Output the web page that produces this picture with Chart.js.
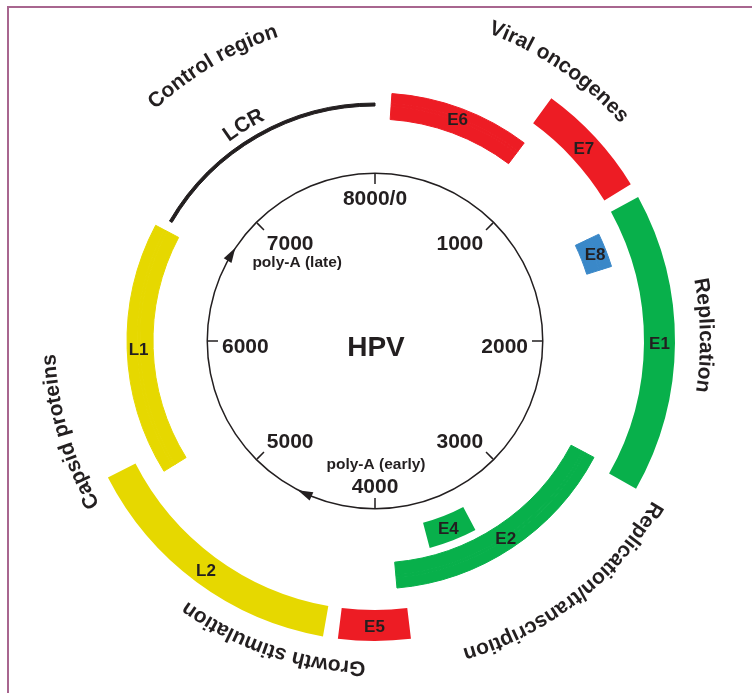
<!DOCTYPE html>
<html>
<head>
<meta charset="utf-8">
<script src="https://cdn.jsdelivr.net/npm/chart.js@4.4.0/dist/chart.umd.min.js"></script>
<style>
html, body { margin: 0; padding: 0; background: #fff; overflow: hidden; }
#frame { position: absolute; left: 7px; top: 6px; width: 800px; height: 800px;
         border-left: 2px solid #a8668f; border-top: 2px solid #a8668f; }
#wrap { position: absolute; left: 0; top: 0; width: 752px; height: 693px; }
</style>
</head>
<body>
<div id="frame"></div>
<div id="wrap"><canvas id="genomeMap"></canvas></div>
<script>
const GENOME_LENGTH = 8000
const RED = '#ed1c24'
const GREEN = '#08b04b'
const YELLOW = '#e6d800'
const BLUE = '#3a88c8'
const INK = '#231f20'
const NONE = 'rgba(0,0,0,0)'
const FONT = '"Liberation Sans", Arial, Helvetica, sans-serif'

// outer ring
const outerGenes  = ['E7', 'E1', 'E5', 'L2']
const outerStart  = [800, 1362, 3847, 4222]
const outerEnd    = [1300, 2656, 4158, 5398]
const outerColors = [RED, GREEN, RED, YELLOW]

// middle ring
const middleGenes  = ['E6', 'E8', 'E2', 'L1']
const middleStart  = [87, 1433, 2622, 5296]
const middleEnd    = [822, 1611, 3887, 6618]
const middleColors = [RED, BLUE, GREEN, YELLOW]

// long control region, drawn as a thin line inside the middle ring
const lcrName  = 'LCR'
const lcrStart = 6673
const lcrEnd   = 8000

// inner ring
const innerGenes  = ['E4']
const innerStart  = [3378]
const innerEnd    = [3671]
const innerColors = [GREEN]

// scale of the genome circle
const tickPositions = [0, 1000, 2000, 3000, 4000, 5000, 6000, 7000]
const tickLabels    = ['8000/0', '1000', '2000', '3000', '4000', '5000', '6000', '7000']

// poly-A sites (arrow heads on the circle)
const polyASites  = [4547, 6689]
const polyALabels = ['poly-A (early)', 'poly-A (late)']
const polyATicks  = [4000, 7000]

// functional groups written round the outside
const groupLabels  = ['Control region', 'Viral oncogenes', 'Replication',
                      'Replication/transcription', 'Growth stimulation', 'Capsid proteins']
const groupCentres = [7322, 762, 1978, 3156, 4416, 5633]

// extra distance (px) of each group label from the outer ring
const GROUP_GAP = [19, 28, 25, 20, 21, 20]

function buildRing(names, starts, ends, colors)
{
    let order = names.map((n, i) => i).sort((a, b) => starts[a] - starts[b])
    let data = [], bg = [], segNames = []
    let pos = 0
    order.forEach(i => {
        if (starts[i] > pos) {
            data.push(starts[i] - pos); bg.push(NONE); segNames.push('')
        }
        data.push(ends[i] - starts[i]); bg.push(colors[i]); segNames.push(names[i])
        pos = ends[i]
    })
    if (pos < GENOME_LENGTH) {
        data.push(GENOME_LENGTH - pos); bg.push(NONE); segNames.push('')
    }
    return {data: data, bg: bg, names: segNames}
}

function ringDataset(ring, weight, border)
{
    return {
        data: ring.data,
        backgroundColor: ring.bg,
        borderColor: ring.bg,
        borderWidth: border ? 1 : 0,
        weight: weight,
        segmentNames: ring.names
    }
}

function spacer(weight)
{
    return {data: [GENOME_LENGTH], backgroundColor: [NONE], borderWidth: 0, weight: weight, segmentNames: ['']}
}

// tick marks: short black segments centred on each tick position
const TICK_HALF = 6
let tickStarts = [], tickEnds = [], tickNames = [], tickColors = []
tickPositions.forEach(t => {
    if (t - TICK_HALF < 0) {
        tickStarts.push(0); tickEnds.push(t + TICK_HALF)
        tickStarts.push(GENOME_LENGTH + t - TICK_HALF); tickEnds.push(GENOME_LENGTH)
        tickNames.push('', ''); tickColors.push(INK, INK)
    } else {
        tickStarts.push(t - TICK_HALF); tickEnds.push(t + TICK_HALF)
        tickNames.push(''); tickColors.push(INK)
    }
})

const outerRing  = buildRing(outerGenes, outerStart, outerEnd, outerColors)
const middleRing = buildRing(middleGenes, middleStart, middleEnd, middleColors)
const lcrRing    = buildRing(middleGenes.concat([lcrName]), middleStart.concat([lcrStart]),
                             middleEnd.concat([lcrEnd]), middleColors.concat([INK]))
const innerRing  = buildRing(innerGenes, innerStart, innerEnd, innerColors)
const tickRing   = buildRing(tickNames, tickStarts, tickEnds, tickColors)

const OUTER_RADIUS = 300
const CUTOUT_RADIUS = 157

const datasets = [
    ringDataset(outerRing, 31, false),        // 0: 300 - 269
    spacer(21),                               // 1
    ringDataset(middleRing, 10, true),        // 2: 248 - 238
    ringDataset(lcrRing, 3, true),            // 3: 238 - 235 (LCR line)
    ringDataset(middleRing, 13, true),        // 4: 235 - 222
    spacer(8),                                // 5
    ringDataset(innerRing, 26, false),        // 6: 214 - 188
    spacer(19.5),                             // 7
    {data: [GENOME_LENGTH], backgroundColor: [INK], borderWidth: 0, weight: 1.5, segmentNames: ['']}, // 8: circle
    ringDataset(tickRing, 10, false)          // 9: ticks
]
const LABEL_DATASETS = [0, 3, 6]
const CIRCLE_DATASET = 8
const TICK_DATASET = 9

function bpToAngle(bp)
{
    return bp / GENOME_LENGTH * Math.PI * 2
}

function drawCurvedText(ctx, text, cx, cy, radius, centreAngle)
{
    let total = ctx.measureText(text).width
    let a = centreAngle - total / radius / 2
    for (const ch of text) {
        let w = ctx.measureText(ch).width
        ctx.save()
        ctx.translate(cx, cy)
        ctx.rotate(a + w / 2 / radius)
        ctx.fillText(ch, 0, -radius)
        ctx.restore()
        a += w / radius
    }
}

function drawArrow(ctx, cx, cy, r, ang)
{
    let px = cx + r * Math.sin(ang), py = cy - r * Math.cos(ang)
    let tx = Math.cos(ang), ty = Math.sin(ang)
    let nx = -ty, ny = tx
    ctx.beginPath()
    ctx.moveTo(px + tx * 8, py + ty * 8)
    ctx.lineTo(px - tx * 7 + nx * 4.5, py - ty * 7 + ny * 4.5)
    ctx.lineTo(px - tx * 7 - nx * 4.5, py - ty * 7 - ny * 4.5)
    ctx.closePath()
    ctx.fill()
}

const labelPlugin = {
    id: 'genomeLabels',
    afterDatasetsDraw(chart)
    {
        const ctx = chart.ctx
        const first = chart.getDatasetMeta(0).data[0]
        const cx = first.x, cy = first.y
        ctx.save()
        ctx.fillStyle = INK
        ctx.textBaseline = 'alphabetic'

        // scale labels
        const tickIn = chart.getDatasetMeta(TICK_DATASET).data[0].innerRadius
        const tickSize = 21
        const cap = 0.716 * tickSize
        ctx.font = 'bold ' + tickSize + 'px ' + FONT
        let labelPos = {}
        tickPositions.forEach((t, i) => {
            let ang = bpToAngle(t)
            let s = Math.sin(ang), c = Math.cos(ang)
            let x = cx + (tickIn - 4) * s, y = cy - (tickIn - 4) * c
            ctx.textAlign = s > 0.3 ? 'right' : (s < -0.3 ? 'left' : 'center')
            let base
            if (c > 0.3) base = y + cap + 2
            else if (c < -0.3) base = y - 1
            else base = y + cap / 2 + 4
            ctx.fillText(tickLabels[i], x, base)
            let w = ctx.measureText(tickLabels[i]).width
            let mid = ctx.textAlign == 'right' ? x - w / 2 : (ctx.textAlign == 'left' ? x + w / 2 : x)
            labelPos[t] = {x: mid, base: base, top: base - cap}
        })

        // centre title
        ctx.textAlign = 'center'
        ctx.font = 'bold 28px ' + FONT
        ctx.fillText('HPV', cx + 1, cy + 15)

        // poly-A arrows and captions
        const circle = chart.getDatasetMeta(CIRCLE_DATASET).data[0]
        const circleR = (circle.innerRadius + circle.outerRadius) / 2
        ctx.font = 'bold 15.5px ' + FONT
        polyASites.forEach((site, i) => {
            drawArrow(ctx, cx, cy, circleR, bpToAngle(site))
            let p = labelPos[polyATicks[i]]
            if (p.top > cy)
                ctx.fillText(polyALabels[i], p.x + 1, p.top - 9)
            else
                ctx.fillText(polyALabels[i], p.x + 7, p.base + 17)
        })

        // gene names in the middle of their arcs
        ctx.font = 'bold 17px ' + FONT
        const geneCap = 0.716 * 17
        LABEL_DATASETS.forEach(di => {
            const meta = chart.getDatasetMeta(di)
            const names = chart.data.datasets[di].segmentNames
            meta.data.forEach((arc, j) => {
                if (!names[j] || names[j] == lcrName) return
                let pt = arc.getCenterPoint()
                ctx.fillText(names[j], pt.x, pt.y + geneCap / 2)
            })
        })

        // curved labels
        ctx.textAlign = 'center'
        ctx.font = 'bold 21px ' + FONT
        const outerR = chart.getDatasetMeta(0).data[0].outerRadius
        groupLabels.forEach((g, i) => {
            drawCurvedText(ctx, g, cx, cy, outerR + GROUP_GAP[i], bpToAngle(groupCentres[i]))
        })
        const midR = chart.getDatasetMeta(2).data[0].outerRadius
        drawCurvedText(ctx, lcrName, cx, cy, midR - 1, bpToAngle(7304))
        ctx.restore()
    }
}

const config = {
    type: 'doughnut',
    data: {
        datasets: datasets
    },
    options: {
        responsive: true,
        maintainAspectRatio: false,
        animation: false,
        events: [],
        radius: OUTER_RADIUS,
        cutout: (CUTOUT_RADIUS / OUTER_RADIUS * 100) + '%',
        layout: {
            padding: {left: 0, right: 2, top: 0, bottom: 11}
        },
        plugins: {
            legend: { display: false },
            tooltip: { enabled: false }
        }
    },
    plugins: [labelPlugin]
}

new Chart(document.getElementById('genomeMap'), config)
</script>
</body>
</html>
